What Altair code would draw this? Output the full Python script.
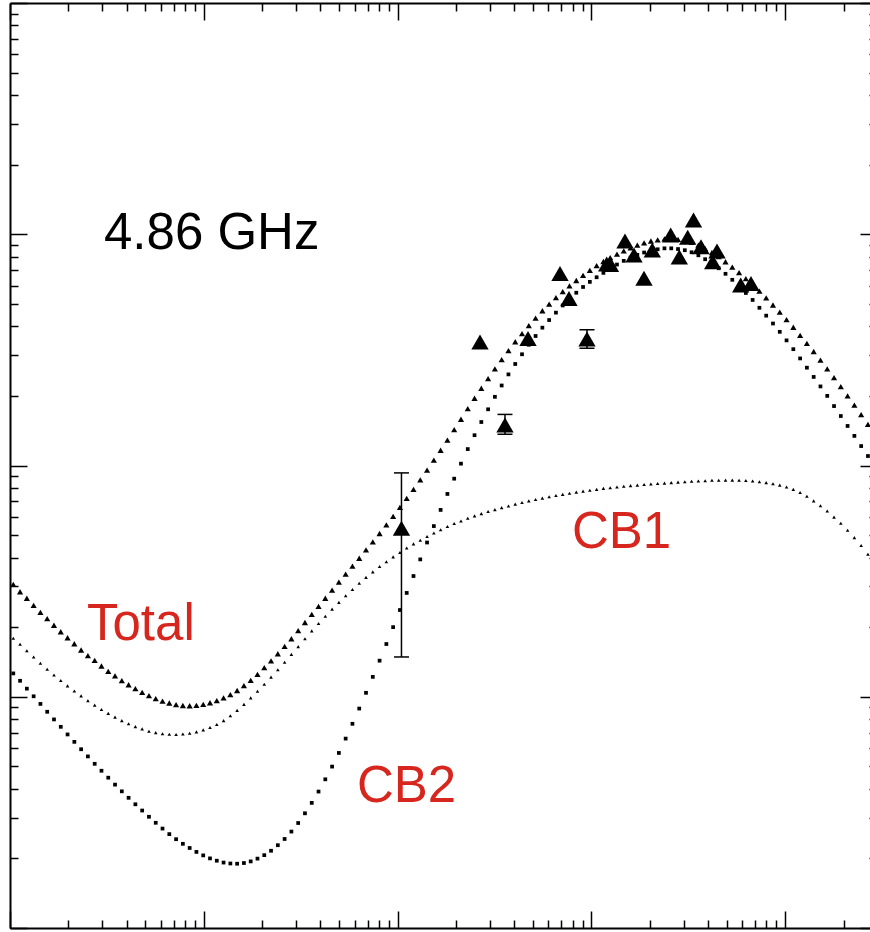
import altair as alt
import numpy as np
import pandas as pd

# Model light curves at 4.86 GHz, sampled every 0.035 dex in time.
# Values are log10(flux density / mJy); time is in days.
LOG_T_START = 0.017
LOG_T_STEP = 0.035

log_flux_total = [
    -0.514, -0.546, -0.574, -0.605, -0.635, -0.662, -0.691, -0.719, -0.745, -0.771,
    -0.798, -0.822, -0.843, -0.867, -0.890, -0.910, -0.930, -0.948, -0.965, -0.981,
    -0.995, -1.008, -1.019, -1.027, -1.034, -1.038, -1.039, -1.037, -1.033, -1.026,
    -1.017, -1.005, -0.991, -0.973, -0.952, -0.929, -0.903, -0.874, -0.845, -0.814,
    -0.782, -0.749, -0.714, -0.679, -0.644, -0.609, -0.574, -0.539, -0.504, -0.470,
    -0.435, -0.401, -0.365, -0.330, -0.294, -0.257, -0.220, -0.181, -0.142, -0.103,
    -0.062, -0.020, 0.023, 0.066, 0.110, 0.155, 0.200, 0.246, 0.291, 0.334,
    0.376, 0.418, 0.458, 0.497, 0.535, 0.570, 0.605, 0.637, 0.669, 0.698,
    0.726, 0.752, 0.777, 0.800, 0.822, 0.844, 0.864, 0.882, 0.899, 0.914,
    0.928, 0.941, 0.953, 0.963, 0.971, 0.976, 0.980, 0.980, 0.978, 0.973,
    0.965, 0.953, 0.938, 0.921, 0.903, 0.881, 0.858, 0.834, 0.808, 0.782,
    0.754, 0.725, 0.694, 0.663, 0.631, 0.598, 0.563, 0.528, 0.493, 0.456,
    0.418, 0.380, 0.341, 0.301, 0.261, 0.220, 0.178,
]

log_flux_cb1 = [
    -0.747, -0.773, -0.801, -0.828, -0.855, -0.881, -0.906, -0.930, -0.953, -0.975,
    -0.996, -1.017, -1.036, -1.055, -1.072, -1.088, -1.103, -1.117, -1.129, -1.139,
    -1.149, -1.155, -1.160, -1.162, -1.163, -1.161, -1.158, -1.152, -1.143, -1.133,
    -1.120, -1.103, -1.082, -1.059, -1.033, -1.005, -0.976, -0.946, -0.915, -0.883,
    -0.851, -0.817, -0.783, -0.749, -0.715, -0.683, -0.652, -0.621, -0.592, -0.563,
    -0.536, -0.509, -0.484, -0.460, -0.437, -0.416, -0.395, -0.376, -0.357, -0.339,
    -0.323, -0.307, -0.292, -0.278, -0.264, -0.251, -0.240, -0.228, -0.218, -0.208,
    -0.199, -0.191, -0.182, -0.175, -0.167, -0.160, -0.153, -0.147, -0.141, -0.135,
    -0.130, -0.125, -0.120, -0.115, -0.111, -0.107, -0.103, -0.099, -0.096, -0.093,
    -0.090, -0.087, -0.085, -0.082, -0.080, -0.078, -0.076, -0.074, -0.072, -0.070,
    -0.068, -0.067, -0.066, -0.064, -0.064, -0.063, -0.063, -0.064, -0.065, -0.067,
    -0.070, -0.074, -0.079, -0.085, -0.093, -0.103, -0.117, -0.133, -0.153, -0.174,
    -0.197, -0.223, -0.250, -0.280, -0.312, -0.346, -0.384,
]

log_flux_cb2 = [
    -0.899, -0.931, -0.965, -0.998, -1.031, -1.065, -1.098, -1.130, -1.163, -1.195,
    -1.227, -1.258, -1.290, -1.320, -1.350, -1.380, -1.409, -1.437, -1.465, -1.492,
    -1.519, -1.545, -1.570, -1.594, -1.616, -1.636, -1.654, -1.671, -1.686, -1.699,
    -1.709, -1.717, -1.721, -1.722, -1.719, -1.712, -1.700, -1.685, -1.666, -1.642,
    -1.615, -1.583, -1.546, -1.504, -1.459, -1.410, -1.357, -1.302, -1.243, -1.181,
    -1.117, -1.051, -0.983, -0.914, -0.844, -0.772, -0.699, -0.625, -0.551, -0.478,
    -0.406, -0.333, -0.262, -0.192, -0.123, -0.057, 0.008, 0.071, 0.131, 0.188,
    0.243, 0.297, 0.346, 0.394, 0.439, 0.481, 0.522, 0.560, 0.596, 0.629,
    0.661, 0.692, 0.720, 0.747, 0.772, 0.794, 0.814, 0.833, 0.852, 0.869,
    0.885, 0.899, 0.911, 0.921, 0.929, 0.935, 0.939, 0.939, 0.936, 0.931,
    0.922, 0.909, 0.892, 0.874, 0.853, 0.829, 0.803, 0.775, 0.746, 0.716,
    0.682, 0.648, 0.614, 0.578, 0.541, 0.503, 0.463, 0.423, 0.383, 0.342,
    0.301, 0.257, 0.214, 0.171, 0.128, 0.084, 0.041,
]

# Measured flux densities (days, mJy)
obs_days = [104.7, 266.2, 358.2, 470.9, 688.7, 766.2, 949.0, 1199.5, 1254.8, 1490.6,
            1659.1, 1868.4, 2062.0, 2566.0, 2842.0, 3140.0, 3364.0, 3678.0, 4226.0,
            4447.0, 5894.0, 6660.0]
obs_mjy = [0.535, 3.42, 1.496, 3.54, 6.76, 5.28, 3.52, 7.43, 7.40, 9.35,
           8.13, 6.46, 8.55, 9.93, 7.98, 9.70, 11.53, 8.83, 7.60,
           8.47, 6.04, 6.12]

# Error bars that extend beyond the symbols
err_days = [104.7, 358.2, 949.0]
err_lo = [0.1486, 1.365, 3.214]
err_hi = [0.929, 1.663, 3.864]

# Axis ticks (log decades plus 2..9 minor ticks)
T_MAX = 27390
t_major = [1, 10, 100, 1000, 10000]
t_minor = [m * 10 ** e for e in range(5) for m in range(2, 10) if m * 10 ** e < T_MAX]
f_major = [0.01, 0.1, 1, 10, 100]
f_minor = [round(m * 10.0 ** e, 6) for e in range(-2, 2) for m in range(2, 10)]

W, H = 860, 925
RIGHT_FRAME = W + 7   # right-hand frame lies just past the visible area
RED = "#d6261d"
FONT = "Liberation Sans"

log_t = [round(LOG_T_START + LOG_T_STEP * k, 4) for k in range(len(log_flux_total))]
curves = pd.DataFrame({
    "days": 10 ** np.array(log_t),
    "total": 10 ** np.array(log_flux_total),
    "cb1": 10 ** np.array(log_flux_cb1),
    "cb2": 10 ** np.array(log_flux_cb2),
})
obs = pd.DataFrame({"days": obs_days, "flux": obs_mjy})
errs = pd.DataFrame({"days": err_days, "lo": err_lo, "hi": err_hi})

x_scale = alt.Scale(type="log", domain=[1, T_MAX], nice=False)
y_scale = alt.Scale(type="log", domain=[0.01, 100], nice=False)


def frame_axis(orient, offset, values, length, domain):
    """Inward-pointing ticks: an axis drawn on the opposite edge, pulled across."""
    return alt.Axis(orient=orient, offset=offset, values=values, tickSize=length,
                    labels=False, grid=False, domain=domain, domainColor="black",
                    domainWidth=2, tickColor="black", tickWidth=1.5)


def xenc(axis):
    return alt.X("days:Q", scale=x_scale, title=None, axis=axis)


# bottom frame (top-oriented, moved down), top frame (bottom-oriented, moved up)
ax_bottom_major = frame_axis("top", -H, t_major, 17, True)
ax_top_major = frame_axis("bottom", -H, t_major, 17, True)
ax_bottom_minor = frame_axis("top", -H, t_minor, 8, False)
ax_top_minor = frame_axis("bottom", -H, t_minor, 8, False)
# left frame (right-oriented, moved left), right frame (left-oriented, moved right)
ax_left_major = frame_axis("right", -W, f_major, 17, True)
ax_right_major = frame_axis("left", -RIGHT_FRAME, f_major, 17, True)
ax_left_minor = frame_axis("right", -W, f_minor, 8, False)
ax_right_minor = frame_axis("left", -RIGHT_FRAME, f_minor, 8, False)

base = alt.Chart(curves)

total = base.mark_point(shape="triangle-up", filled=True, size=38, color="black",
                        opacity=1).encode(
    x=xenc(ax_bottom_major),
    y=alt.Y("total:Q", scale=y_scale, title=None, axis=ax_left_major),
)
cb1 = base.mark_point(shape="triangle-up", filled=True, size=13, color="black",
                      opacity=1).encode(
    x=xenc(ax_top_major),
    y=alt.Y("cb1:Q", scale=y_scale, title=None, axis=ax_right_major),
)
cb2 = base.mark_point(shape="square", filled=True, size=14, color="black",
                      opacity=1).encode(
    x=xenc(ax_bottom_minor),
    y=alt.Y("cb2:Q", scale=y_scale, title=None, axis=ax_left_minor),
)
points = alt.Chart(obs).mark_point(shape="triangle-up", filled=True, size=300,
                                   color="black", opacity=1).encode(
    x=xenc(ax_top_minor),
    y=alt.Y("flux:Q", scale=y_scale, title=None, axis=ax_right_minor),
)

err_x = alt.X("days:Q", scale=x_scale, axis=None)
bars = alt.Chart(errs).mark_rule(color="black", strokeWidth=1.5).encode(
    x=err_x,
    y=alt.Y("lo:Q", scale=y_scale, axis=None),
    y2="hi:Q",
)
cap_lo = alt.Chart(errs).mark_tick(orient="horizontal", size=15, thickness=1.5,
                                   color="black", opacity=1).encode(
    x=err_x, y=alt.Y("lo:Q", scale=y_scale, axis=None))
cap_hi = alt.Chart(errs).mark_tick(orient="horizontal", size=15, thickness=1.5,
                                   color="black", opacity=1).encode(
    x=err_x, y=alt.Y("hi:Q", scale=y_scale, axis=None))


def label(text, px, py, color):
    return alt.Chart(pd.DataFrame({"t": [text]})).mark_text(
        font=FONT, fontSize=51, color=color, align="left", baseline="alphabetic"
    ).encode(x=alt.value(px), y=alt.value(py), text="t:N")


chart = alt.layer(
    total, cb1, cb2, points, bars, cap_lo, cap_hi,
    label("4.86 GHz", 94, 246, "black"),
    label("Total", 77, 637, RED),
    label("CB1", 562, 545, RED),
    label("CB2", 347, 799, RED),
).resolve_axis(
    x="independent", y="independent"
).properties(
    width=W, height=H,
    autosize=alt.AutoSizeParams(type="none"),
    padding={"left": 10, "top": 3, "right": 0, "bottom": 4},
    background="white",
).configure_view(strokeWidth=0)

chart.save("out.html", embed_options={"renderer": "svg", "actions": False})
